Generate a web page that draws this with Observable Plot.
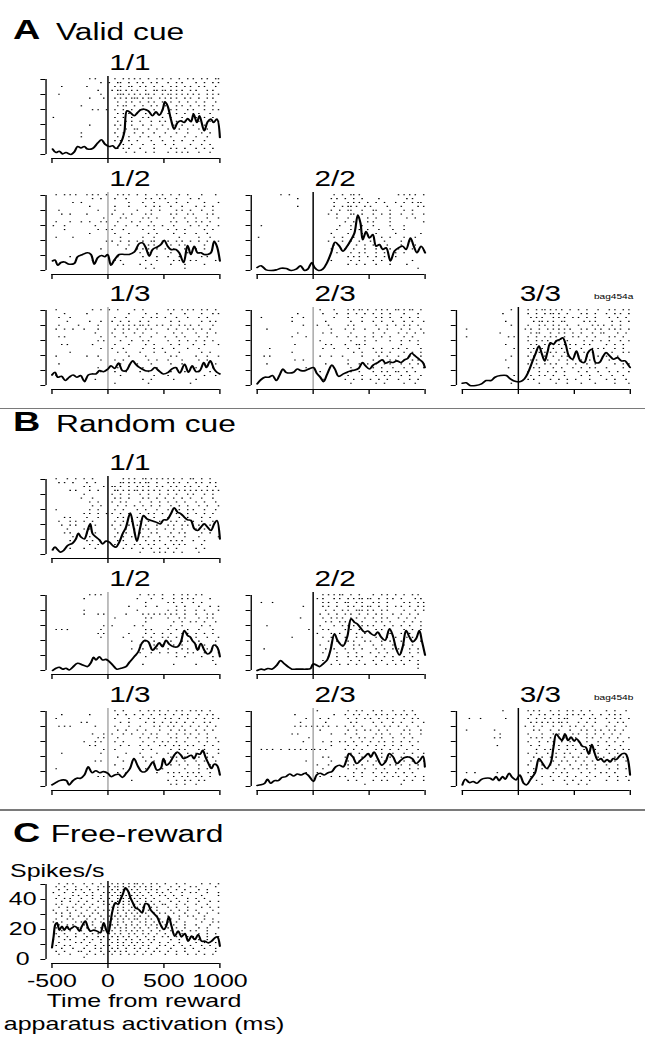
<!DOCTYPE html>
<html>
<head>
<meta charset="utf-8">
<script src="https://cdn.jsdelivr.net/npm/d3@7"></script>
<script src="https://cdn.jsdelivr.net/npm/@observablehq/plot@0.6"></script>
<style>
  body { margin: 0; background: #fff; }
  #fig {
    position: relative; width: 477.8px; height: 1045px;
    transform: scaleX(1.35); transform-origin: 0 0;
    font-family: "Liberation Sans", Arial, sans-serif; color: #000;
  }
  .lbl { position: absolute; white-space: nowrap; line-height: 1; }
  .sep { position: absolute; left: 0; width: 477.8px; height: 1.5px; background: #7a7a7a; }
  .panel { position: absolute; }
</style>
</head>
<body>
<div id="fig"></div>
<script>
// ---- Axis values ----
const xTicks = [-500, 0, 500, 1000];
const yTicks = [0, 10, 20, 30, 40, 50];
const yTickLabels = [0, 20, 40];

// ---- Spike-density functions (ms, spikes/s) ----
const validPsth11 = [[-494,3.6],[-464,1.3],[-435,2.2],[-405,0.4],[-375,1.3],[-330,0],[-300,1.8],[-271,5.3],[-241,4.4],[-211,5.3],[-182,3.6],[-137,4],[-92,7.6],[-57,9.8],[-27,6.9],[12,5.3],[42,5.8],[71,4],[116,8],[146,14.7],[170,29.1],[199,28],[235,25.8],[265,28],[295,29.8],[324,30.2],[360,29.1],[399,25.8],[429,28.4],[458,26.2],[488,29.8],[509,35.1],[533,32.4],[562,23.6],[592,16.9],[622,21.3],[652,22.4],[682,21.3],[711,24],[741,21.8],[765,26.9],[795,21.3],[818,25.8],[860,15.8],[890,21.8],[920,23.6],[943,21.3],[973,23.6],[1000,11.3]];
const validPsth12 = [[-494,6.4],[-473,7],[-449,3.5],[-420,5.3],[-390,5.7],[-345,4.2],[-300,4.8],[-271,9.2],[-226,10.7],[-182,11.8],[-152,10.7],[-122,4.2],[-92,8.5],[-57,10],[-27,9.2],[-3,10.7],[27,3.5],[57,7],[101,10.7],[146,10.7],[190,10.7],[235,12.3],[280,18],[310,18.4],[339,15.1],[369,9.6],[399,14],[443,15.8],[473,17.3],[503,20.1],[533,16.2],[562,14],[607,14],[637,11.8],[676,5.3],[711,16.6],[741,10.7],[771,16.2],[800,11.8],[830,11.8],[860,10.7],[890,10.7],[920,11.8],[949,19.5],[973,16.2],[1000,6.4]];
const validPsth22 = [[-500,2],[-464,3.1],[-420,0.4],[-375,0],[-330,0.4],[-286,1.5],[-241,1.3],[-196,0],[-152,0.9],[-113,3.1],[-77,0],[-48,0.9],[-12,5.3],[12,2],[48,0],[86,0.9],[125,5.3],[161,11.8],[196,18.8],[235,16.2],[265,12.9],[304,16.2],[339,20.6],[369,25],[399,37],[423,31.5],[443,20.6],[473,26],[503,21.7],[533,23.9],[562,16.2],[592,17.3],[622,14],[652,15.1],[690,6.4],[726,12.9],[762,15.1],[800,16.2],[830,14],[869,21.7],[899,16.2],[928,11.8],[964,16.2],[1000,11.8]];
const validPsth13 = [[-500,7],[-473,8.8],[-449,5.5],[-415,6.1],[-381,3.3],[-347,5.5],[-312,7],[-278,5.5],[-244,6.6],[-210,2.6],[-176,7],[-142,7.7],[-108,7.7],[-74,9.9],[-40,9.2],[0,11],[27,13.1],[61,11.4],[95,14.9],[129,9.9],[163,9.9],[197,14.2],[221,16.4],[248,14.2],[282,12],[334,9.9],[385,9.9],[419,12],[453,9.9],[494,7.7],[538,8.8],[572,11],[606,12],[641,8.3],[685,14.2],[719,8.8],[753,13.1],[787,9.2],[821,9.9],[856,15.3],[880,12],[914,16.4],[948,11],[973,8.8],[1000,7.7]];
const validPsth23 = [[-500,1.1],[-466,3.9],[-432,5.5],[-397,5.5],[-363,6.6],[-329,3.3],[-295,7.7],[-271,11],[-243,8.8],[-209,8.3],[-175,8.8],[-141,11],[-107,9.9],[-72,9.9],[-38,11],[3,12],[31,8.3],[64,5.5],[92,2.6],[126,7.7],[167,13.6],[194,11],[228,6.1],[270,7.7],[304,8.8],[338,9.9],[372,10.3],[406,11.4],[441,15.3],[468,13.1],[502,11],[536,13.6],[577,15.3],[618,17.1],[646,14.9],[680,15.8],[714,15.3],[748,16.4],[783,15.3],[817,17.1],[844,18],[878,21.5],[912,19.7],[947,17.5],[981,15.3],[998,12]];
const validPsth33 = [[-500,1.5],[-466,1.8],[-432,0],[-380,0],[-329,1.1],[-288,3.3],[-243,3.3],[-209,5.5],[-158,6.6],[-107,6.6],[-72,4.4],[-21,2.6],[20,2.6],[54,4.4],[88,8.8],[122,15.3],[157,21.9],[184,26.3],[211,20.8],[235,16.4],[259,21.9],[287,28.5],[314,27.4],[338,29.6],[372,30.7],[396,31.8],[423,27.4],[451,19.7],[485,17.5],[519,23],[553,16.4],[588,15.3],[622,21.9],[656,24.1],[690,15.3],[724,15.3],[759,19.7],[783,21.9],[817,19.7],[851,17.5],[885,18.6],[919,16.4],[954,16.4],[971,14.9],[998,12]];

const randomPsth11 = [[-494,3.1],[-473,4.9],[-449,3.1],[-426,1.6],[-396,2.7],[-360,6],[-315,7.6],[-286,10.4],[-265,14.2],[-241,11.6],[-211,10.4],[-182,16],[-158,20.4],[-137,13.8],[-107,11.6],[-77,9.8],[-48,7.1],[-18,8.9],[12,8.2],[42,6],[71,4.9],[101,8.2],[131,13.8],[161,18.2],[199,27.6],[229,18.2],[259,8.9],[289,18.2],[318,26],[348,23.8],[384,22.7],[429,21.6],[467,20.4],[497,23.1],[527,23.1],[562,27.1],[592,31.1],[622,28.2],[652,27.1],[682,24.9],[711,23.1],[741,22.7],[771,17.1],[800,16],[830,18.2],[860,20.4],[890,18.2],[920,16],[949,20.4],[973,22.7],[1000,10.4]];
const randomPsth12 = [[-494,0],[-464,1.5],[-435,2.2],[-405,0.9],[-375,1.5],[-345,0.4],[-315,2.2],[-271,4.8],[-226,3.7],[-182,2.6],[-152,5.3],[-128,8.8],[-107,7],[-77,9.2],[-48,7],[-18,7.4],[12,5.9],[42,3.7],[80,0.9],[116,1.5],[161,2.6],[190,5.3],[235,9.2],[271,12.5],[301,18],[330,20.1],[360,19.1],[399,13.6],[429,15.8],[458,18.4],[488,15.8],[518,20.1],[548,17.5],[586,15.8],[622,15.8],[652,19.1],[682,26.7],[711,23.4],[735,22.3],[756,19.7],[777,18],[800,13.6],[830,18],[860,13.6],[890,11],[920,12.5],[943,16.9],[973,15.8],[1000,9.2]];
const randomPsth22 = [[-500,0],[-464,0.9],[-435,0.4],[-405,1.3],[-369,0.9],[-330,3.1],[-291,6.6],[-262,4.8],[-226,2.6],[-190,0.9],[-152,0.9],[-107,0.9],[-62,0.9],[-24,1.3],[0,4.4],[27,3.7],[57,2.6],[95,4.8],[125,7],[155,13.6],[190,24.5],[220,19.7],[265,16.2],[304,22.3],[339,34.4],[369,32.2],[399,30.7],[429,27.8],[458,25.6],[488,26.3],[518,24.5],[548,23.4],[577,25.6],[607,22.3],[643,20.1],[682,27.8],[711,23.4],[741,14.7],[771,10.3],[800,15.8],[830,26.7],[860,22.3],[890,19.1],[920,21.2],[949,26.7],[970,20.1],[1000,10.3]];
const randomPsth13 = [[-500,1.1],[-466,2.6],[-432,3.9],[-398,4.4],[-370,3.9],[-347,1.1],[-312,3.9],[-278,5.5],[-244,5.5],[-210,7.7],[-176,13.1],[-142,9.2],[-108,10.5],[-74,9.2],[-40,9.9],[0,8.8],[27,6.6],[61,7.7],[95,8.1],[129,6.1],[163,8.8],[197,12],[232,18.6],[267,13.6],[301,9.9],[334,9.9],[369,13.1],[403,16.4],[437,11],[471,12],[496,18.6],[523,14.2],[557,16.4],[591,20.8],[619,23],[653,20.8],[676,18.6],[711,19.7],[745,20.8],[769,18.6],[796,21.9],[823,21.5],[847,24.1],[871,19.7],[898,15.3],[925,12],[949,14.9],[973,14.2],[1000,7.7]];
const randomPsth23 = [[-500,0.7],[-466,1.1],[-432,2.2],[-408,4.8],[-380,2.2],[-346,3.9],[-312,3.9],[-278,6.1],[-243,6.6],[-209,8.3],[-175,7],[-141,8.3],[-107,7.7],[-72,8.8],[-38,7],[3,3.3],[31,7.7],[64,8.8],[99,7.7],[133,9.2],[167,9.9],[201,13.1],[235,14.2],[270,13.1],[297,17.5],[321,21.9],[355,19.7],[389,15.3],[424,17.5],[458,19.7],[492,21.9],[516,19.7],[543,23],[577,18.6],[612,14.2],[646,16.4],[680,21.9],[714,19.7],[748,15.3],[783,17.5],[817,19.3],[851,19.7],[885,18.6],[919,15.3],[954,17.5],[981,20.1],[998,13.1]];
const randomPsth33 = [[-500,1.1],[-473,4.8],[-438,2.6],[-404,3.3],[-370,2.2],[-329,4.8],[-295,5.5],[-254,5.5],[-226,4.4],[-199,6.6],[-172,3.9],[-141,6.6],[-117,4.8],[-83,8.8],[-55,6.1],[-21,4.4],[13,7.7],[47,2.2],[75,1.1],[109,4.8],[150,9.2],[184,18.6],[218,15.3],[252,12],[287,15.3],[314,26.3],[338,35],[362,32.9],[389,30.7],[417,35],[444,30.7],[471,32.9],[499,30.2],[519,31.8],[547,29.6],[574,26.7],[601,26.3],[629,21.5],[656,28],[683,21.9],[711,17.5],[738,18.6],[765,16.4],[793,18],[820,16.4],[847,18.6],[875,18],[902,20.1],[930,21.9],[957,21.9],[977,18.6],[998,7.7]];

const freePsth = [[-500,7.8],[-485,15.6],[-470,23.3],[-455,24.4],[-434,19.6],[-411,22.2],[-390,19.6],[-366,22.2],[-345,20],[-321,21.1],[-297,22.2],[-276,21.1],[-255,18.9],[-232,22.2],[-202,25.6],[-178,21.1],[-157,18.9],[-127,19.6],[-97,18.9],[-68,17.8],[-38,24.4],[-17,20],[1,17.3],[22,24.4],[43,33.3],[67,37.8],[90,36.7],[111,40],[132,43.3],[156,47.8],[180,45.6],[201,41.1],[222,37.8],[246,34.4],[275,33.3],[305,31.1],[335,37.3],[359,36.7],[380,33.3],[410,30.7],[439,28.4],[469,23.3],[499,20],[520,22.2],[544,28.4],[568,22.2],[597,15.6],[627,18.9],[657,15.1],[687,17.3],[717,12.2],[747,15.6],[776,13.3],[806,16.7],[836,12.2],[866,12.2],[896,11.1],[925,12.2],[955,14.4],[976,15.1],[1000,8.9]];

// ---- Spike rasters: one string per trial, six 250-ms blocks from -500 to 1000 ms, "o" = spike ----
const validRaster11 = [
".......... ...o.o.... ..o..o.o.o .o..o..o.o ..o..o..o. o..o.o..oo",
".......... .......o.. o..oo..o.. o.o..o.o.. .o..o.o... .o..o..o.o",
"...o...... ..o....... ..o.o..oo. .o.o..o..o ..o.o..o.o ..o.o...o.",
".......... ......o... .o.oo.o.o. o..o..oo.o o.o.o.o..o .o...o.o..",
"..o....... .......o.. ...ooo.o.o .o.oo.o..o .oo.o.o.o. o.o..o.o.o",
".......... ...o....o. ..o.o.o.oo o.o.oo..o. o.o.o..o.o ..o..o.o..",
".......... .......... ...o..o.o. .o..o.o..o ..o..o..o. .o..o...o.",
".......... o......... ...o.oo..o ..o..o.o.. o...o.o..o ..o.o..o..",
".......... ....o.o..o ..o..o..o. .o.o..o..o ..o.o...o. o...o..o.o",
".......... .......... ...o.o.o.. o..o..o... .o..o..o.. o.o...o...",
"o......... .......... ..o..o..o. ..o.o....o ..o...o... .o..o..o..",
".......... .......... ...o..o.o. .o...o..o. o...o..o.. ..o...o..o",
".......... ...o...... ..o.o...o. ..o..o...o ...o..o... o...o.....",
".......... .......... ...o..o..o o...o..o.. .o...o..o. ..o..o....",
".......... o......... ..o..o...o ..o...o... o...o...o. ...o..o...",
".......... o......... ...o...o.. .o..o...o. ..o....o.. .o...o....",
".......... .......... ..o.o..o.. o....o...o ...o..o... o...o.....",
".......... .......... .....o..o. ..o...o... o..o.....o ...o..o...",
".......... .......... ...o.o.o.. .o....o... ..o.o..o.. .o..o..o..",
".......... .......... ......o..o ...o..o... .o..o.o.o. ..o...o..."];
const validRaster12 = [
".o..o.o.o. ..o.o.o..o ...o.o.o.. o..o...o.o ..o..o..o. ...o....o.",
".......... ....o..o.. ..o...o... ...o.o..o. o...o....o ..o.......",
".......o.. o......... .......o.. ..o...o... .o..o...o. ....o....o",
".......... ...o...... ..o....o.. ...o..o.o. ..o...o... .o..o..o..",
"..o....... ......o... ..o....... o....o..o. ....o.o..o ...o...o..",
"...o..o... ..o....... .o...o..o. ...o.o.... ..o.o...o. o....o.o..",
".......... ........o. ....o.o... ..o.o..o.. ...o...o.. .o...o...o",
".o....o... o..o...o.o ...o....o. .o...o.... ..o.o...o. .o.o..o...",
"o...o..... .....o.... ..o...o... o...o.o..o ...o.....o ..o..o...o",
"....o..... ......o..o .o...o.... ..o...o... .o..o..o.. ....o..o..",
".......... ...o...... ..o....o.. ....o..o.. ...o...o.. .o...o....",
".o.....o.. .......... ....o..... ..o...o... .....o.... ..o...o...",
".......... .........o .o..o..o.. o.o..oo..o .o..o.o..o ..o..o...o",
".......... .......... ...o...o.. ....o.o... ..o..o.o.. ....o.....",
".......... .......o.. ......o... o.o.o..o.. o..o...o.. .o..o.....",
".......... .......... .......... .o..o..... ..o.....o. ..o.......",
"......o... .......... ...o...... ..o....o.. .o...o.... ...o.o....",
".......... ....o..... ..o.o..... ...o...o.. ...o.o...o .o......o.",
".......... .......... .....o.... .o...o.... ..o....o.. ....o.....",
".......... .......... .......... ...o..o... .......o.. .........."];
const validRaster22 = [
"........o. .o........ .......o.. o..oo.o... .......... o.o.o.o..o",
".......... ....o..... ......o.o. .o..o..o.. ...o...... ...o.o....",
".......... .......... .......o.. ..o.o.o..o ..o..o...o ..o..o.oo.",
".......... ....o..... .......o.. o.oo.o..o. o.....o... .o.....o.o",
".......... .......... ......o..o ..oo...o.. .oo....o.. ..o..o....",
".......... .......... .....o..o. ...oo..o.. .o..o..o.. .o...o...o",
".......... .......... ........o. ..o...o..o ..o....o.. ...o..o...",
".......... .......... .......... .o..o....o .o.....o.. .........o",
".o........ .......... .........o ...o...o.. .o.....o.. ..o.......",
".......... .......... ........o. ...o..o..o ...o....o. ..o.......",
".......... .......... ......o... ..o....o.. ..o......o ........o.",
"o......... .......... .......o.. o...o..o.. o...o..o.. ..o...o...",
".......... .......... .....o.... o..o..o... o....o.... .o..o.....",
".......... .......... .......o.. ..o..o..o. .o....o... .o....o...",
".......... .......... ......o... .o..o...o. ..o....o.. o....o....",
".......... .......... ........o. ...o..o.o. ..o..o...o ..o.......",
".......... .......... .......... ..o.o.o..o ..o..o...o ..........",
".......... .......... ......o... ...o..o... .o..o..o.. .....o....",
".......... .......... .......... ..o..o..o. ..o....o.. ...o......",
".......... .......... .......... .......... .......... .......o.."];
const validRaster13 = [
".o........ ....o..o.. o..o.....o ..o....... .o.o..o.o. o..o.o..o.",
"....o..... ..o....... .......o.. ...o...o.. ..o....o.. ...o...o.o",
"..o...o... .......... ..o...o... ..o..o.o.. o...o...o. ..o..o....",
".....o.... ...o...o.. .o..o..o.. .o..o..... ..o..o.... ...o..o.o.",
"..o......o ......o... ...o.o.o.o .oo.o..o.o ..o..o.o.o ..o....o..",
".o..o..o.. .o....o... ..o..o.o.. o..o.o.... .o..o...o. o..o..o...",
".......... .....o.... .o...o...o ..o....o.. ...o..o... .o...o..o.",
"..o.o..... .......o.. ..o...o... .o...o.... o...o..o.. ..o..o....",
".......... ......o.o. ....o...o. ..o.o..... .o...o..o. .o..o..o..",
"...o.o.... ....o..... ..o....o.. ...o..o... ..o..o.... o...o....o",
".......... .......o.. .o...o.... ..o...o..o ...o....o. ..o.......",
"......o... .......... ...o..o... .o....o... o....o.... ...o..o...",
".o........ ..o...o... .......o.. ...o...... ..o.o..... .o...o...o",
".......... .......o.. ..o..o.... ....o..o.. .o....o... ..o..o....",
"..o....... .......... ....o..... o....o.... ..o...o... ....o...o.",
".......... ......o... ...o...... ..o....o.. ....o..... .o.....o..",
".......... .......o.. ..o...o... .o..o..... ..o....o.. ..o...o...",
".o........ .......... ....o..... ......o... .o........ ....o...o.",
".......... .....o.... .......... ..o..o.... ...o...... .o........",
".......... .......... ..o....... ....o..... .........o .........."];
const validRaster23 = [
".......... .......... ..o....o.. ..o.o.oo.o ..o.o.o..o o.o.oo..o.",
".......... ....o..... ...o....o. ..o..o..o. .o..o..o.. ..o....o..",
".o........ ..o...o... .......o.. ..o....o.. ..o.o..o.. .o..o..o..",
".......... ..o....... ....o..... ...o...o.. .o..o...o. ..o..o...o",
".......... ......o... .o...o.... ..o.o..... ..o...o..o ..o.o..o..",
"...o...... .......... ......o... .o..o...o. ...o..o... .o..o...o.",
".......... ....o..... ...o..o... ...o...... .o...o.... o..o..o..o",
".......... ..o....o.. ........o. ..o..o..o. .o..o..o.. ..o..o....",
".......... .......... ..o....... ...o....o. ..o....o.. .o..o..o..",
".......... ...o...... ....o.o... .o...oo.o. .......... .o.....o..",
"....o..... .......... ...o...o.. ..o...o... .o..o...o. o..o....o.",
".......... ..o....... .......... ....o..o.. ..o.o..o.. ..o..o..o.",
"..o.o..... .......... ..o...o... o......o.. ...o..o... o...o...o.",
".......... ...o..o... .......... ..o....... .o..o..o.o ..o..o.o..",
"...o...... .......... ....o..... ..o...o..o ..o..o.o.. .o..o..o.o",
".......... .......o.. .......o.. ...o...... .o..o...o. ..o..o...o",
".......... .......... ..o....... ...o..o... .o..o.o..o o..o..o...",
".......... .......... .......... ..o....o.. ..o..o.o.. .o..o...o.",
".......... .......... ...o...... .o..o..o.. o..o..o... o...o..o..",
".......... .......... .......... ...o...... ..o..o.... ..o...o..."];
const validRaster33 = [
".......... .......o.. ...o..o.oo .o.o.o..o. .o..o...o. ..o.o..o.o",
".......... ....o..... ...o..o..o .oo.o..o.. ..o.o..o.. .o..o.o..o",
".......... .......... ....o.o.o. ..o.o.o..o .o..o..o.. ..o..o..o.",
".......... .....o.... .....o.oo. o.o..oo... ...o.o.o.. ...o..o..o",
".......... .......o.. ...o...o.o ..o.o..o.. .o....o.o. o..o..o...",
".o........ .......... ..o.o..o.. o.o.o.o.o. ..o.o..o.o ..o.o.o..o",
".......... ...o...... ....o.oo.. .o..o.o..o ..o...o..o o....o..o.",
".o........ ......o.o. ...o..o..o .o.o..o..o .o..o..o.. ..o.o..o..",
".......... .......... ...o..o.o. o..oo..o.. ...o..o..o ..o...o..o",
".......... .....o.... ....o.o..o .o..o.o.o. o..o.o.... .o..o..o..",
".......... ........o. ...o.o..o. ..o..o..o. ..o...o.o. o...o..o..",
".......... .......... ....o..o.o .o.o..o... o..o..o... ...o...o.o",
".......... .......o.. ...o.o...o ..o..o.o.. .o..o...o. .o...o....",
".......... .....o.... ....o.o... o...o..o.o ..o..o.... ..o...o...",
".......... .......... ...o..o..o .o.o...o.. o...o..o.. ....o..o.o",
".......... ......o... .....o.o.. ..o..o...o ..o..o.o.. .o.....o..",
".......... .......... ...o...o.. o..o..o... .o..o...o. ..o..o...o",
".......... ........o. ....o..o.o ..o...o... ..o..o...o ...o...o..",
".......... .......... ...o.o.... .o..o..o.. o....o.... .o..o...o.",
".......... .......o.. .......o.. ...o...o.. ..o....o.. ....o....o"];

const randomRaster11 = [
".o...o..o. .o..o..... .....o.o.o ..oo.o.o.o .o.o..o..o o..o..o...",
"..o.o..o.. ..o..o.... ....oo.o.o .o.oo..o.. .o.o.o..o. .o.o..o.o.",
".......... .o.o....o. .oo.o..o.. o.o.o..o.o ..o.o..o.o ..o..o..o.",
"......o.o. ...o..o... ..oo.o.o.o o.o.o.o.o. .o.o.o.o.o .o.o.o.o.o",
".......... .o........ .o..o..o.. .o..o...o. .o..o...o. o...o..o..",
".......... o...o..... ..o.o..o.. ..o.o..o.. o..o..o..o ...o...o..",
".......... ...o..o... .o..o.o... .o...o..o. .o..o..o.. .o..o...o.",
".......... ....o..o.. ...o..o..o ..o..o..o. ..o..o..o. ..o..o...o",
".o........ ...o..o... ..o..o.... o..o...o.. .o...o..o. o...o...o.",
".......... .o.o..o..o .o..o..o.. .o..o.o..o ..o.o...o. .o..o..o..",
"....o.o... ..o...o... ...o.o.... o..o..o... .o...o..o. ...o..o...",
"..o...o.o. .o..o..... ..o..o..o. .o..o...o. ..o.o..o.. o..o...o..",
"...o..o.o. ...o.o.... .o..o..o.. o..o...o.. .o.o..o.o. ..o...o...",
".....o.... .o.o...... ..o...o..o ..o.o..o.. o..o..o... .o..o.....",
"....o.o... ..o..o.... ...o..o..o .o...o.o.. ..o..o.o.. ...o..o...",
".......o.. ...o...... ..o..o..o. ..o.o...o. .o.o...o.. ..o......o",
"......o... ..o.o..... ...o.o.... o..o..o.o. ..o.o.o... o...o.....",
".......... ...o..o... ..o...o..o .o..o.o... o..o.o.o.. ...o......",
"......o... .o...o.... .....o..o. ..o..o..o. .o..o..... .o..o.....",
".......... .......... .......... .o....o.o. o..o..o... ..o......."];
const randomRaster12 = [
".......... ...o.o.o.. .......... .o..o.o..o ...o..o.o. .o.o......",
".......... .o........ .......... o....o...o ...o..o.o. o.....o...",
".......... .......... .......... ...o...... .o.o..o... o..o......",
".......... .......... .......o.. ...o...o.. ....o..o.. ..o...o..o",
".......... .o........ .......... o......... .o..o..o.. .o..o....o",
".......... .o....o.o. ......o... ..o.o.o.o. o.o.o..o.. .o...o.o..",
".......... .......... ..o....... ...o.o.... .o...o.o.. ..o..o.o..",
".......... .......... .......... ...o...... ...o..o..o .o..o...o.",
".......... ........o. .o.......o ..o....... ..o...o... ...o..o...",
".o.o.o.... .......o.. .......... ...o.o.... .o..o...o. ..o....o..",
".......... ......o.o. .......o.. ...o..o..o ..o...o.o. .o..o..o..",
".......... .......o.. .....o.... ..o..o...o .o..o.o... .o...o...o",
".......... .......... ........o. ...o..o... ..o...o.o. ..o.....o.",
".......... .......... .......... .o....o..o ...o..o... .o..o...o.",
".......... .......... ........o. ..o..o.o.. .o....o.o. ..o..o....",
".......... .......... .......... .o...o..o. .o..o...o. o...o....o",
".......... .......... .......... ...o...... ....o..o.. ...o...o..",
".......... .......... .......... .......... .......... .......o..",
".......... .......... .......... ..o....... ...o...... .o......o.",
".......... .......... .......... .......... .......... .........."];
const randomRaster22 = [
".......... .......... ...o.o.o.o o..o..o... .o..o.o..o ..o..o.o..",
".......... .......... .o.o...o.o ..o.o.oo.o o..o..o.o. .o....o.o.",
".o...o.... .......... ...o.o..o. .oo..o.o.. .o.o..o... ..o.o..o.o",
".......... ......o... ...o.o..o. ..o.o..o.o o..o..o..o .o..o..o.o",
".......... .......... ....o..o.. o.o..ooo.o .o..o.o... ..o...o..o",
".......... .......... ..o..o..o. .o.o..o..o ..o.o...o. .o..o..o..",
".......... .....o.... ...o..o.o. o..o.o..o. .o..o.o... o..o..o...",
".......... .......... ....o.o..o .o..o..o.. ..o.o..o.. ..o..o..o.",
"...o...... .......... ..o....o.. o.o.o..o.o .o...o..o. .o..o...o.",
".......... ........o. ...o.o.... .o.o..o... ..o.o..o.. ..o..o..o.",
".......... .......... .o....o..o ..o..o..o. o..o...o.. .o..o..o..",
".......... ..o....... ...o..o... .o...o.o.. ..o...o..o ...o.o....",
".......... .......... .....o..o. ..o.o...o. o...o..o.. .o...o..o.",
".......... .......... ..o...o... o...o.o... .o..o...o. ..o..o....",
"..o....... .......... ....o..o.. .o..o..o.. ..o..o..o. o...o..o..",
".......... .......... ...o....o. ..o..o.... o..o..o... .o..o..o..",
".......... .......... .....o..o. ..o..o.o.. ..o..o..o. ..o..o....",
".......... .......... ...o....o. ...o..o... .o..o...o. .o..o..o..",
".......... .......... ......o..o ..o..o..o. ..o...o..o ..o....o..",
".......... .......... .......... .......... .......... .......o.."];
const randomRaster13 = [
".......... .......... ..o..o.... .o..o.o.o. .o..o.o..o .o.o..o...",
"...o...... ...o...... ...o..o..o ..o..o..o. o..o..o.o. ..o..o.o..",
".o........ .......... ..o....o.. .o..o.o... o.o..o..o. .o..o..o.o",
".......... o.o....... ....o..o.. ...o..o..o ..o.o..o.. o...o.o...",
"..o.o.o... .....o.... ..o....o.. .o....o.o. .o.o..o..o ..o..o..o.",
".......... .......... ...o..o... o..o....o. ..o..o.o.. .o..o..o..",
".......... ....o...o. .o...o..o. ..o..o.o.. .o..o..o.o ..o..o....",
".......... ......o.o. ...o...... .o..o..o.. ..o.o...o. .o...o..o.",
".......... .o...o.o.. ..o..o.... ..o...o..o .o..o..o.. ..o..o...o",
".......... ...o.o.... ....o..o.. .o..o...o. o..o.o..o. o...o..o..",
".......... ........o. ..o....... ..o..o.... ..o..o.o.. ..o.o....o",
"...o...... .......o.. ......o... .o.....o.. .o..o...o. .o...o...o",
".......... .......... ...o...... ..o..o.... ..o.o..o.. ..o..o.o..",
".......... .....o.o.. .....o.... ...o..o... o...o..o.. .o..o...o.",
".......... .......... ..o....... ......o... ..o..o..o. ..o...o...",
".o........ .......... .....o.... ...o.....o .......o.. ..o..o....",
".......... .......o.. ...o..o... .......o.. .o.o.o..o. o.o...o...",
".......... ......o.o. .......... .......... ...o..o.o. .o.o..o...",
".......... .......... ........o. .......... .o..o..o.o ..o.o.....",
".......... .......... .......... .......... ..o.o..o.. .o........"];
const randomRaster23 = [
".......... .......... .o........ ..o..o.o.. .o..o...o. ..o..o....",
".......... ...o...... .......o.. .o..o.o..o ..o.o.o..o .o.o..o...",
".......... .......o.. ..o..o.... ..o..o..o. o..o..o.o. ..o..o.o..",
".......... .....o.... ....o..... ...o.o.... .o..o...o. .o...o...o",
".......... ...o.o.o.o .o.o.o..o. .o..o..o.. ..o..o.o.. o..o...o..",
".......... .......... ..o....... ..o..o..o. o..o..o... ..o.o...o.",
".......... ..o.o..... ......o... .o...o.... ..o.o..o.. .o..o...o.",
".......... ........o. .......... ...o..o.o. .o..o...o. ..o..o....",
".......... ......o... ...o..o..o .o..o..o.. o..o.o..o. .o..o..o..",
".......... .......... ......o... ..o..o...o ..o..o..o. .o...o....",
".o.o.o..o. .o.o.o.o.o o.o.o..... .o..o..o.. ..o.o..o.. o..o...o..",
".......... .......... .......... ...o..o... .o..o...o. ..o..o...o",
".......... .......... ...o.o.... .o..o..o.. o...o..o.. .o..o..o..",
".......... .......o.. ......o... ..o...o..o ..o..o.... ..o..o...o",
".......... .......... .o...o.... ..o.o..o.. .o..o..o.o .o..o..o..",
".......... .......... ...o...o.. ..o..o..o. ..o..o.... o...o..o..",
".......... .......o.. .o........ ....o..o.. .o..o.o..o ..o..o....",
".......... .......... ..o...o..o .o..o..o.. ..o..o..o. o..o..o..o",
".......... .......... .......... ..o..o.... .o..o.o... ..o..o...o",
".......... .......... .......... ........o. .......... .o........"];
const randomRaster33 = [
".......... ....o..... ...o.o.o.. .o..o..o.o ..o..o.... .o..o...o.",
".......... .......... ....o..o.o ..o.o..o.o .o.o..o..o ..o.o.o...",
"..o...o... .....o.... ...o..o..o .o..o.oo.. ..o..o.o.. .o..o.o..o",
".......... .......... ....o.o.o. o.o.oo.o.. .o..o..o.. ..o..o.o..",
".......... .......... ..o..o..o. ..o..o..o. o..o..o... .o..o...o.",
".o........ .o........ .....o.o.. .o..o...o. ..o.o..o.o ..o.o..o..",
".......... ...o...... ...o....o. ..o.o.o..o .o..o..o.. o..o..o...",
".......... .o.o...... ....o.o.o. .o..o.o... o...o.o..o ..o..o...o",
".......... .......... ...o...o.. o.o..o..o. .o..o...o. .o..o..o..",
".......... ..o....... ....o..o.. ..o.o..o.o ..o..o..o. ..o...o...",
".......... .......... ......o..o .o..o..o.. o..o...o.. .o..o..o.o",
".......... .......... ...o..o... o..o..o.o. ..o..o..o. ..o..o....",
".......... .......... .....o..o. .o.o..o..o .o..o...o. o...o..o..",
".......... .......... ....o..o.. ..o..o.o.. o..o..o... ..o.o...o.",
".......... .......... ...o....o. .o..o...o. ..o.o..o.. .o...o...o",
".......... .......... .....o..o. o..o..o..o .o..o..o.. ..o..o..o.",
".o..o..... ..o....... ...o.o.... ..o..o.o.. ..o..o...o .o..o.....",
".......... .......... ....o...o. .o..o..o.. o...o..o.. ..o..o..o.",
".......... .......... ......o... ..o...o..o ..o..o.... .o...o...o",
".......... .......... ........o. .......o.. .o..o..... .........."];

const freeRaster = [
"..o..o.o.. .o..o..o.. .o.o.o.o.o o.o..o.o.. o...o..o.. ...o..o..o",
".o..o...o. ..o...o.o. o.oo.o.o.o .o.o.o..o. ..o..o...o .o......o.",
"..o..o..o. o..o..o... .o.o.oo.o. o..o.o.o.. .o..o..o.. ..o..o....",
"o...o..o.. .o..o...o. o.o.o..o.o .o..o..o.o ..o...o..o .o...o...o",
"..o....o.o ..o.o..o.. .o.oo.o.o. o.o..o..o. o..o..o... ...o.....o",
".o..o.o... o...o..o.. o..o.o.o.o .o.o..o... .o..o...o. .o..o.....",
"...o..o..o ..o...o.o. .o.o.o.o.. o..o.o..o. ..o..o..o. ..o...o..o",
".o.o....o. .o..o...o. o.o..o.o.o .o..o.o..o o...o..o.. .o...o....",
"..o..o.o.. o..o..o... .o.o.o..o. o.o..o.o.. .o..o...o. ...o..o..o",
"o....o..o. ..o..o..o. o..o.o.o.o ..o.o..o.. ..o..o..o. .o.....o..",
".o.o..o... o...o.o... .o.o..o.o. o..o..o.o. o..o...o.. ..o..o...o",
"...o..o..o .o.o...o.. o.o.o.o..o .o..o..o.. .o...o..o. o...o.....",
".o...o.o.. ..o..o..o. .o.o.o.o.o o..o.o..o. ..o..o.... .o..o..o..",
"o..o....o. o...o..o.. o..o.o..o. .o.o..o..o .o..o..o.. ...o...o.o",
"..o..o.o.. .o..o...o. .o.o..o.o. o..o.o.o.. o..o...o.. .o....o...",
".o...o...o ..o..o.o.. o.o.o.o..o .o..o..o.. .o..o..o.. ..o..o...o",
"...o..o... o..o....o. .o..o.o.o. o.o..o..o. ..o...o..o .o...o....",
".o..o...o. .o..o.o... o.o.o..o.o ..o.o..o.. o..o..o... ..o..o..o.",
"..o..o..o. ..o...o.o. .o.o.o.o.. o..o..o..o .o..o...o. o....o...o",
"o...o.o... .o..o..o.. o..o..o.o. .o..o.o... ..o..o..o. ..o..o....",
"..o.....o. o..o...o.. .o.o.o..o. o.o..o..o. .o...o.... .o..o...o.",
".o..o.o... ..o..o..o. o..o.o.o.o ..o.o...o. o..o..o..o ...o..o...",
"...o...o.. .o...o.o.. .o.o..o..o .o..o..o.. ..o....o.. o...o...o.",
".o..o....o o..o...o.. o.o.o.o... o..o..o.o. .o..o..o.. ..o.....o.",
"..o...o... ..o..o..o. .o..o..o.o ..o..o.... o...o...o. .o..o..o..",
".......... .o........ .......... .......... .......... .........."];

// ---- Layout (unstretched px; the whole figure is widened by 1.35) ----
const PLOT_W = 124.4, PLOT_H = 75;
const colLeft = [37.8, 189.6, 341.5];
const rowTopA = [79, 194.5, 310];
const rowTopB = [479, 595, 711];
const FONT = '"Liberation Sans", Arial, sans-serif';

const fig = document.getElementById("fig");

// Convert a trial string into spike times (ms)
function spikeTimes(row) {
  const blocks = row.trim().split(/\s+/);
  const out = [];
  blocks.forEach((b, bi) => {
    const start = -500 + bi * 250, step = 250 / b.length;
    for (let j = 0; j < b.length; j++) if (b[j] === "o") out.push(start + (j + 0.5) * step);
  });
  return out;
}

function addText(txt, {left, baseline, size, weight = "normal", center = false}) {
  const d = document.createElement("div");
  d.className = "lbl";
  d.textContent = txt;
  d.style.left = left + "px";
  d.style.top = (baseline - 0.8465 * size) + "px";
  d.style.fontSize = size + "px";
  d.style.fontWeight = weight;
  if (center) d.style.transform = "translateX(-50%)";
  fig.appendChild(d);
}

function addSep(y) {
  const d = document.createElement("div");
  d.className = "sep";
  d.style.top = y + "px";
  fig.appendChild(d);
}

function drawPanel({title, psth, raster, left, top, final, tag, labelled}) {
  const trialY = d3.scaleLinear().domain([0, raster.length - 1]).range([50.5, 1.5]);
  const spikes = raster.flatMap((row, i) => spikeTimes(row).map(t => ({t, trial: trialY(i)})));
  const ml = labelled ? 38 : 12, mr = 8, mt = 30, mb = labelled ? 34 : 12;
  const chart = Plot.plot({
    width: PLOT_W + ml + mr,
    height: PLOT_H + mt + mb,
    marginLeft: ml, marginRight: mr, marginTop: mt, marginBottom: mb,
    x: {domain: [-500, 1000]},
    y: {domain: [0, 50]},
    style: {background: "transparent", overflow: "visible", fontFamily: FONT, color: "black"},
    marks: [
      Plot.dot(spikes, {x: "t", y: "trial", symbol: "square", r: 0.62, fill: "black"}),
      Plot.ruleX([0], {y1: -2.7, y2: 52, stroke: final ? "black" : "#a8a8a8", strokeWidth: 1.1}),
      Plot.line(psth, {x: d => d[0], y: d => d[1], curve: "catmull-rom", stroke: "black", strokeWidth: 1.6}),
      Plot.ruleX([-500], {y1: 0, y2: 50, dx: -4.4}),
      Plot.axisY({ticks: yTicks, tickSize: 3.7, dx: -4.4, label: null, fontSize: 18.5,
        textAnchor: labelled ? "middle" : undefined, tickPadding: labelled ? 13.6 : 1,
        tickFormat: labelled ? (d => yTickLabels.includes(d) ? String(d) : "") : () => ""}),
      Plot.ruleY([0], {x1: -500, x2: 1000, dy: 4}),
      Plot.axisX({ticks: xTicks, tickSize: 5, dy: 4, tickPadding: 5.5, label: null, fontSize: 18.5,
        tickFormat: labelled ? (d => String(d)) : () => ""}),
      title ? Plot.text([title], {x: 0, y: 50, text: d => d, dx: 1, dy: -9, textAnchor: "start", lineAnchor: "bottom", fontSize: 22}) : null,
      tag ? Plot.text([tag], {x: 1000, y: 50, text: d => d, dx: 2.2, dy: -11, textAnchor: "end", lineAnchor: "bottom", fontSize: 7.5}) : null
    ]
  });
  chart.classList.add("panel");
  chart.style.left = (left - ml) + "px";
  chart.style.top = (top - mt) + "px";
  fig.appendChild(chart);
}

// ---- Panel tables ----
const validPanels = [
  {title: "1/1", psth: validPsth11, raster: validRaster11, row: 0, col: 0},
  {title: "1/2", psth: validPsth12, raster: validRaster12, row: 1, col: 0},
  {title: "2/2", psth: validPsth22, raster: validRaster22, row: 1, col: 1},
  {title: "1/3", psth: validPsth13, raster: validRaster13, row: 2, col: 0},
  {title: "2/3", psth: validPsth23, raster: validRaster23, row: 2, col: 1},
  {title: "3/3", psth: validPsth33, raster: validRaster33, row: 2, col: 2, tag: "bag454a"}
];
const randomPanels = [
  {title: "1/1", psth: randomPsth11, raster: randomRaster11, row: 0, col: 0},
  {title: "1/2", psth: randomPsth12, raster: randomRaster12, row: 1, col: 0},
  {title: "2/2", psth: randomPsth22, raster: randomRaster22, row: 1, col: 1},
  {title: "1/3", psth: randomPsth13, raster: randomRaster13, row: 2, col: 0},
  {title: "2/3", psth: randomPsth23, raster: randomRaster23, row: 2, col: 1},
  {title: "3/3", psth: randomPsth33, raster: randomRaster33, row: 2, col: 2, tag: "bag454b"}
];

// ---- Section A: valid cue ----
addText("A", {left: 9.6, baseline: 40, size: 28, weight: "bold"});
addText("Valid cue", {left: 41.5, baseline: 41, size: 23.5});
validPanels.forEach(p => drawPanel({...p, left: colLeft[p.col], top: rowTopA[p.row], final: p.col === p.row}));

addSep(407.5);

// ---- Section B: random cue ----
addText("B", {left: 9.6, baseline: 432, size: 28, weight: "bold"});
addText("Random cue", {left: 41.5, baseline: 433, size: 23.5});
randomPanels.forEach(p => drawPanel({...p, left: colLeft[p.col], top: rowTopB[p.row], final: p.col === p.row}));

addSep(809);

// ---- Section C: free reward ----
addText("C", {left: 9.6, baseline: 843, size: 28, weight: "bold"});
addText("Free-reward", {left: 37.5, baseline: 843, size: 23.5});
addText("Spikes/s", {left: 7.4, baseline: 878, size: 18.5});
drawPanel({title: null, psth: freePsth, raster: freeRaster, left: colLeft[0], top: 884, final: true, labelled: true});
addText("Time from reward", {left: 106.7, baseline: 1008, size: 18.5, center: true});
addText("apparatus activation (ms)", {left: 106.7, baseline: 1031, size: 18.5, center: true});
</script>
</body>
</html>
